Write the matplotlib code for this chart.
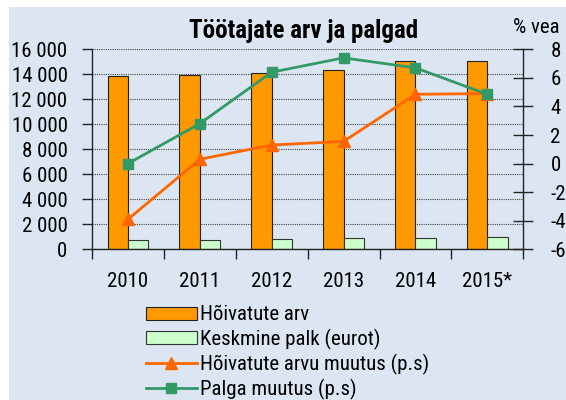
import matplotlib
matplotlib.use("Agg")
import matplotlib.pyplot as plt
from matplotlib import font_manager as fm
import numpy as np

# ---- data ----
years = ["2010", "2011", "2012", "2013", "2014", "2015*"]
employed = [13900, 13950, 14130, 14350, 15070, 15100]
avg_wage = [750, 750, 800, 880, 930, 960]
employed_change = [-3.9, 0.3, 1.3, 1.55, 4.85, 4.9]
wage_change = [0.0, 2.8, 6.4, 7.4, 6.7, 4.85]
left_ticks = [0, 2000, 4000, 6000, 8000, 10000, 12000, 14000, 16000]
left_labels = ["0", "2 000", "4 000", "6 000", "8 000", "10 000", "12 000", "14 000", "16 000"]
right_ticks = [-6, -4, -2, 0, 2, 4, 6, 8]
right_labels = ["-6", "-4", "-2", "0", "2", "4", "6", "8"]
series_names = ["Hõivatute arv", "Keskmine palk (eurot)",
                "Hõivatute arvu muutus (p.s)", "Palga muutus (p.s)"]
title = "Töötajate arv ja palgad"
right_unit = "% vea"

# ---- fonts ----
names = {f.name for f in fm.fontManager.ttflist}
FONT = "Roboto" if "Roboto" in names else "DejaVu Sans"
TS = 13.5
for cand in ["Roboto Condensed", "Liberation Sans Narrow"]:
    if cand in names:
        FONT = cand
        TS = 15
        break
plt.rcParams["font.family"] = FONT
plt.rcParams["axes.unicode_minus"] = False

W, H = 566, 400
BG = "#DCE6F2"
fig = plt.figure(figsize=(W / 100, H / 100), dpi=100)
fig.patch.set_facecolor("white")
fig.add_artist(plt.Rectangle((9 / W, 0), 1, 1 - 7 / H, transform=fig.transFigure,
                             facecolor=BG, edgecolor="none", zorder=-10))

ax = fig.add_axes([92 / W, 1 - 249.3 / H, (523.3 - 92) / W, 200 / H])
ax.set_facecolor("none")
ax2 = ax.twinx()

x = np.arange(len(years))
bw = 0.284
ax.bar(x - bw / 2, employed, bw, color="#FF9900", edgecolor="#222222", linewidth=0.8,
       label=series_names[0], zorder=2)
ax.bar(x + bw / 2, avg_wage, bw, color="#CCFFCC", edgecolor="#333333", linewidth=0.8,
       label=series_names[1], zorder=2)

l1, = ax2.plot(x, employed_change, color="#FF6600", lw=2, marker="^", ms=8.5,
               markeredgecolor="#FF6600", label=series_names[2])
l2, = ax2.plot(x, wage_change, color="#339966", lw=2, marker="s", ms=7.5,
               markeredgecolor="#339966", label=series_names[3])

ax.set_xlim(-0.5, len(years) - 0.5)
ax.set_ylim(0, 16000)
ax2.set_ylim(-6, 8)

ax.set_yticks(left_ticks)
ax.set_yticklabels(left_labels, fontsize=TS)
ax.tick_params(axis="y", direction="out", length=7, width=1, pad=10.6, color="#222222")
ax.yaxis.grid(True, linestyle=(0, (1, 1)), color="#444444", linewidth=0.8)
ax.set_axisbelow(True)

ax.set_xticks(x)
ax.set_xticklabels(years, fontsize=TS)
ax.set_xticks(np.arange(len(years) + 1) - 0.5, minor=True)
ax.tick_params(axis="x", which="major", length=0, pad=27.4)
ax.tick_params(axis="x", which="minor", length=7, width=1, direction="out", color="#222222")
for lbl in ax.get_xticklabels():
    lbl.set_va("baseline")

ax2.set_yticks(right_ticks)
ax2.set_yticklabels(right_labels, fontsize=TS)
ax2.tick_params(axis="y", direction="inout", length=14, width=1, pad=12.5, color="#222222")

for a in (ax, ax2):
    a.spines["top"].set_visible(False)
    for s in a.spines.values():
        s.set_color("#222222")
        s.set_linewidth(1)
ax2.spines["left"].set_visible(False)
ax2.spines["bottom"].set_visible(False)
ax.spines["right"].set_visible(False)

fig.text(303.7 / W, 1 - 38.3 / H, title, ha="center", va="baseline",
         fontsize=18, fontweight="bold")
fig.text(536 / W, 1 - 33.3 / H, right_unit, ha="center", va="baseline", fontsize=TS)

h1, lab1 = ax.get_legend_handles_labels()
fig.legend(h1 + [l1, l2], lab1 + [l1.get_label(), l2.get_label()],
           loc="upper left", bbox_to_anchor=(145.7 / W, 1 - 305.5 / H),
           frameon=False, fontsize=TS, borderpad=0, borderaxespad=0,
           handlelength=2.45, handleheight=0.6, handletextpad=0.15,
           labelspacing=0.19, numpoints=1)

fig.savefig("out.png", dpi=100, facecolor="white")
